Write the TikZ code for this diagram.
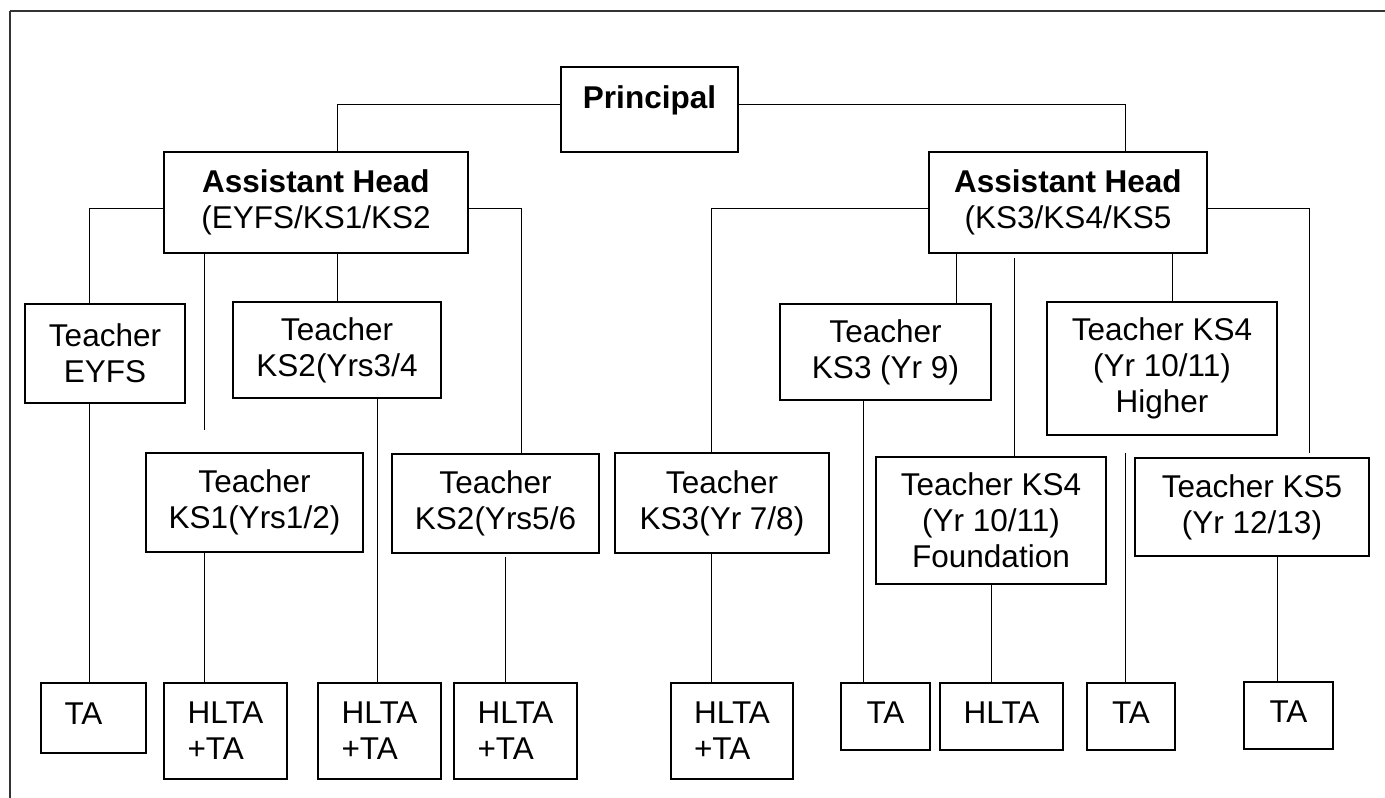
\documentclass[tikz,border=0pt]{standalone}
\usepackage{fontspec}
\setmainfont{Liberation Sans}
\begin{document}
\begin{tikzpicture}[x=1pt,y=-1pt,
  box/.style={draw=black,line width=1.3pt,inner sep=0pt,align=center,font=\fontsize{31.5}{36}\selectfont},
  sz/.style 2 args={minimum width=#1pt,minimum height=#2pt},
  onel/.style={text height=22pt,text depth=9pt},
  hbox/.style={box,align=left},
  conn/.style={line width=1pt,draw=black},
  frame/.style={draw=black!80}]
\useasboundingbox (0,0) rectangle (1385,798);
% frame (top and left edges visible)
\coordinate (fa) at (10,11);
\coordinate (fb) at (1385,11);
\coordinate (fc) at (10,798);
\draw[frame,line width=2.6pt] (fa) -- (fb);
\draw[frame,line width=1.3pt] (fa) -- (fc);
% top level
\node[box,sz={177}{85},text height=23pt,text depth=26pt,font=\bfseries\fontsize{31.5}{36}\selectfont] (P) at (649.5,109.5) {Principal};
\node[box,sz={304}{101}] (AHL) at (316,202.5) {\textbf{Assistant Head}\\(EYFS/KS1/KS2};
\node[box,sz={278}{101}] (AHR) at (1068,202.5) {\textbf{Assistant Head}\\(KS3/KS4/KS5};
% teachers left
\node[box,sz={160}{99}] (EY) at (105,353.5) {Teacher\\EYFS};
\node[box,sz={208}{96}] (K2a) at (337,350) {Teacher\\KS2(Yrs3/4};
\node[box,sz={217}{99}] (K1) at (254.5,502.5) {Teacher\\KS1(Yrs1/2)};
\node[box,sz={207}{99}] (K2b) at (495.5,503.5) {Teacher\\KS2(Yrs5/6};
% teachers right
\node[box,sz={214}{100}] (K3a) at (722,503) {Teacher\\KS3(Yr 7/8)};
\node[box,sz={211}{96}] (K3b) at (885.5,352) {Teacher\\KS3 (Yr 9)};
\node[box,sz={230}{133}] (K4H) at (1162,368.5) {Teacher KS4\\(Yr 10/11)\\Higher};
\node[box,sz={230}{127}] (K4F) at (991,520.5) {Teacher KS4\\(Yr 10/11)\\Foundation};
\node[box,sz={234}{98}] (K5) at (1252,507) {Teacher KS5\\(Yr 12/13)};
% bottom row
\node[box,onel,sz={105}{70}] (T1) at (93.5,718) {\hspace*{-20pt}TA};
\node[hbox,sz={123}{96}] (H1) at (225.5,731) {HLTA\\+TA};
\node[hbox,sz={123}{96}] (H2) at (379.5,731) {HLTA\\+TA};
\node[hbox,sz={123}{96}] (H3) at (515.5,731) {HLTA\\+TA};
\node[hbox,sz={122}{96}] (H4) at (732,731) {HLTA\\+TA};
\node[box,onel,sz={89}{67}] (T2) at (885.5,716.5) {TA};
\node[box,onel,sz={123}{67}] (H5) at (1001.5,716.5) {HLTA};
\node[box,onel,sz={88}{67}] (T3) at (1131,716.5) {TA};
\node[box,onel,sz={89}{67}] (T4) at (1288.5,715.5) {TA};
% free ends
\coordinate (f1) at (204,430);
\coordinate (f2) at (1014,258);
\coordinate (f3) at (1309,453);
\coordinate (f4) at (1125,453);
\coordinate (f5) at (505,557);
% connectors
\draw[conn] (P.west |- 0,104) -| (337,0 |- AHL.north);
\draw[conn] (P.east |- 0,104) -| (1125,0 |- AHR.north);
\draw[conn] (AHL.west |- 0,208) -| (89,0 |- EY.north);
\draw[conn] (204,0 |- AHL.south) -- (f1);
\draw[conn] (337,0 |- AHL.south) -- (337,0 |- K2a.north);
\draw[conn] (AHL.east |- 0,208) -| (521,0 |- K2b.north);
\draw[conn] (89,0 |- EY.south) -- (89,0 |- T1.north);
\draw[conn] (204,0 |- K1.south) -- (204,0 |- H1.north);
\draw[conn] (377,0 |- K2a.south) -- (377,0 |- H2.north);
\draw[conn] (f5) -- (505,0 |- H3.north);
\draw[conn] (AHR.west |- 0,208) -| (711,0 |- K3a.north);
\draw[conn] (956,0 |- AHR.south) -- (956,0 |- K3b.north);
\draw[conn] (f2) -- (1014,0 |- K4F.north);
\draw[conn] (1172,0 |- AHR.south) -- (1172,0 |- K4H.north);
\draw[conn] (AHR.east |- 0,208) -| (f3);
\draw[conn] (711,0 |- K3a.south) -- (711,0 |- H4.north);
\draw[conn] (863,0 |- K3b.south) -- (863,0 |- T2.north);
\draw[conn] (991,0 |- K4F.south) -- (991,0 |- H5.north);
\draw[conn] (f4) -- (1125,0 |- T3.north);
\draw[conn] (1277,0 |- K5.south) -- (1277,0 |- T4.north);
\end{tikzpicture}
\end{document}
